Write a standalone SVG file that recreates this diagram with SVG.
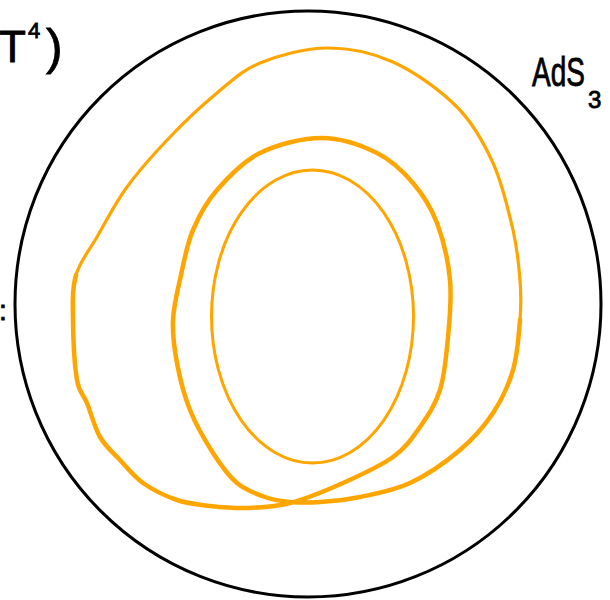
<svg xmlns="http://www.w3.org/2000/svg" width="610" height="600" viewBox="0 0 610 600">
<style>
.hand{font-family:"Liberation Sans",Arial,sans-serif;fill:#000;stroke:#000;stroke-width:0.8}
.orange{fill:none;stroke:#FFA500;stroke-linecap:round;stroke-linejoin:round}
</style>
<rect width="610" height="600" fill="#fff"/>
<g id="boundary">
<circle cx="308" cy="304" r="293" fill="none" stroke="#000" stroke-width="3"/>
</g>
<g id="labels">
<text class="hand" x="-1" y="62" font-size="44">T<tspan x="28" y="38" font-size="22">4</tspan><tspan x="46" y="64" font-size="50">)</tspan></text>
<text class="hand" font-size="40" transform="translate(532,86) scale(0.7,1)">AdS</text>
<text class="hand" x="588" y="108" font-size="24">3</text>
<text class="hand" x="-1" y="320" font-size="28">:</text>
</g>
<g id="curves">
<path class="orange" stroke-width="3.2" d="M76,275 C80,261.2 88.5,251.7 97,237 S114.8,203.7 127,187 S155,152.7 170,137 S202,105.3 217,93 S241.7,70.5 260,63 S304.8,48.2 327,48 S371.3,52.2 393,62 S440.3,90.2 457,107 S483.7,142.5 493,163 S508.5,210.5 513,230 S518.8,265 520,280 S521.2,305 520,320"/>
<path class="orange" stroke-width="4.5" d="M520,320 C518.8,335 517.5,354.5 513,370 S501.8,399.7 493,413 S473.8,438.3 460,450 S426.7,475.2 410,483 S375,493.8 360,497 S331.7,501.2 320,502 S299.2,502.8 290,502 S273.8,500.2 265,497 S245.7,490.3 237,483 S220.8,465.2 213,453 S196,425 190,410 S179.8,378 177,363 S172.3,334.7 173,320 S177.7,290 181,275 S187,244.2 193,230 S205.8,202.8 217,190 S242.5,161.7 260,153 S302.5,138 322,138 S361.8,145.5 377,153 S403,171.3 413,183 S430.8,206.8 437,223 S448.2,261 450,280 S449.7,318.7 448,337 S444.7,375 440,390 S427.8,415.8 420,427 S405.8,447.7 393,457 S360.2,475.3 343,483 S306,498.8 290,503 S260.3,507.5 247,508 S221.7,507.3 210,506 S188.2,503.8 177,500 S152.5,489.7 143,483 S127.2,467.7 120,460 S105.5,446.5 100,437 S90.8,412.5 87,403 S79.3,393.8 77,380 S73.2,337.5 73,320 S72,288.8 76,275"/>
<ellipse class="orange" stroke-width="3" cx="312.5" cy="316.5" rx="101" ry="146.5"/>
</g>
</svg>
